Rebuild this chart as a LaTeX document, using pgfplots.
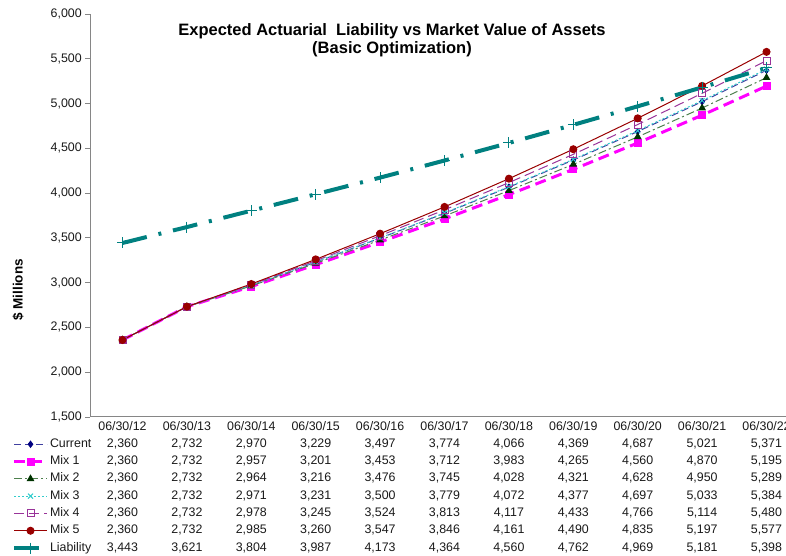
\documentclass[border=0pt]{standalone}
\usepackage{pgfplots}
\pgfplotsset{compat=1.18}
\usepackage{pgfplotstable}
\usepackage{fontspec}
\setmainfont{Liberation Sans}

\definecolor{cur}{HTML}{000080}
\definecolor{curl}{HTML}{4040A0}
\definecolor{mixa}{HTML}{FF00FF}
\definecolor{mixb}{HTML}{4D804D}
\definecolor{mixbm}{HTML}{003300}
\definecolor{mixc}{HTML}{33CCCC}
\definecolor{mixd}{HTML}{993399}
\definecolor{mixe}{HTML}{990000}
\definecolor{liab}{HTML}{008080}
\definecolor{axgray}{HTML}{868686}
\definecolor{txt}{HTML}{1A1A1A}

\pgfplotstableread{
x Current Mix1 Mix2 Mix3 Mix4 Mix5 Liability
0 2360 2360 2360 2360 2360 2360 3443
1 2732 2732 2732 2732 2732 2732 3621
2 2970 2957 2964 2971 2978 2985 3804
3 3229 3201 3216 3231 3245 3260 3987
4 3497 3453 3476 3500 3524 3547 4173
5 3774 3712 3745 3779 3813 3846 4364
6 4066 3983 4028 4072 4117 4161 4560
7 4369 4265 4321 4377 4433 4490 4762
8 4687 4560 4628 4697 4766 4835 4969
9 5021 4870 4950 5033 5114 5197 5181
10 5371 5195 5289 5384 5480 5577 5398
}\data

\newcommand{\tf}{\fontsize{12.4}{14}\selectfont}

\begin{document}
\begin{tikzpicture}
\useasboundingbox (0,0) rectangle (786pt,556pt);
\begin{axis}[
  at={(90.3pt,139pt)}, anchor=south west,
  scale only axis, width=708.4pt, height=403pt,
  xmin=-0.5, xmax=10.5, ymin=1500, ymax=6000,
  axis x line*=bottom, axis y line*=left,
  axis line style={axgray, line width=1pt, -},
  xtick=\empty,
  ytick={1500,2000,...,6000},
  scaled y ticks=false,
  tick align=outside, major tick length=5pt,
  ytick style={axgray, line width=0.8pt},
  yticklabel style={font=\tf, text=txt, /pgf/number format/1000 sep={,}, /pgf/number format/assume math mode=true},
  clip=false,
  legend cell align=left,
  legend style={at={(axis description cs:-0.1105,-0.0538)}, anchor=north west,
    draw=none, fill=none, inner sep=0pt, outer sep=0pt, row sep=6.2pt,
    nodes={inner sep=0pt, text height=8.6pt, text depth=2.5pt, font=\tf, text=txt},
    /tikz/every odd column/.append style={column sep=1pt}},
  legend image code/.code={\draw[mark repeat=2,mark phase=2] plot coordinates {(0pt,0pt)(16.5pt,0pt)(33pt,0pt)};},
]
\addplot[curl, line width=1pt, dash pattern=on 7pt off 4pt, mark=diamond*, mark size=3pt, mark options={solid, fill=cur, draw=cur}] table[x=x,y=Current] {\data};
\addlegendentry{Current}
\addplot[mixa, line width=3pt, dash pattern=on 11pt off 6pt, mark=square*, mark size=3.5pt, mark options={solid, line width=1pt}] table[x=x,y=Mix1] {\data};
\addlegendentry{Mix 1}
\addplot[mixb, line width=1pt, dash pattern=on 8pt off 3pt on 2pt off 3pt, mark=triangle*, mark size=3.5pt, mark options={solid, fill=mixbm, draw=mixbm}] table[x=x,y=Mix2] {\data};
\addlegendentry{Mix 2}
\addplot[mixc, line width=1pt, dash pattern=on 2pt off 2pt, mark=x, mark size=3.5pt, mark options={solid}] table[x=x,y=Mix3] {\data};
\addlegendentry{Mix 3}
\addplot[mixd, line width=1pt, dash pattern=on 10pt off 5pt, mark=square, mark size=3.5pt, mark options={solid, fill=white}] table[x=x,y=Mix4] {\data};
\addlegendentry{Mix 4}
\addplot[mixe, line width=1pt, mark=*, mark size=3.5pt, mark options={solid, fill=mixe}] table[x=x,y=Mix5] {\data};
\addlegendentry{Mix 5}
\addplot[liab, line width=4pt, dash pattern=on 25pt off 12pt on 3pt off 12pt, mark=+, mark size=5.5pt, mark options={solid, line width=1pt}] table[x=x,y=Liability] {\data};
\addlegendentry{Liability}
\end{axis}

% title
\node[anchor=base, font=\bfseries\fontsize{16.5}{19}\selectfont, text=black] at (392pt,520.3pt) {Expected Actuarial\ \ Liability vs Market Value of Assets};
\node[anchor=base, font=\bfseries\fontsize{16.5}{19}\selectfont, text=black] at (392pt,502.3pt) {(Basic Optimization)};
% y label
\node[rotate=90, font=\bfseries\fontsize{13.5}{16}\selectfont, text=black] at (18pt,266pt) {\$ Millions};

% data table header
\foreach \d [count=\i from 0] in {06/30/12,06/30/13,06/30/14,06/30/15,06/30/16,06/30/17,06/30/18,06/30/19,06/30/20,06/30/21,06/30/22} {
  \node[anchor=base, font=\tf, text=txt] at ({122.5pt+64.4pt*\i}, 125.7pt) {\d};
}
% data table values
\foreach \col [count=\r from 0] in {Current,Mix1,Mix2,Mix3,Mix4,Mix5,Liability} {
  \foreach \i in {0,...,10} {
    \pgfplotstablegetelem{\i}{\col}\of\data
    \node[anchor=base, font=\tf, text=txt] at ({122.5pt+64.4pt*\i}, {108.7pt-17.3pt*\r}) {\pgfmathprintnumber[assume math mode=true,1000 sep={,}]{\pgfplotsretval}};
  }
}
\end{tikzpicture}
\end{document}
